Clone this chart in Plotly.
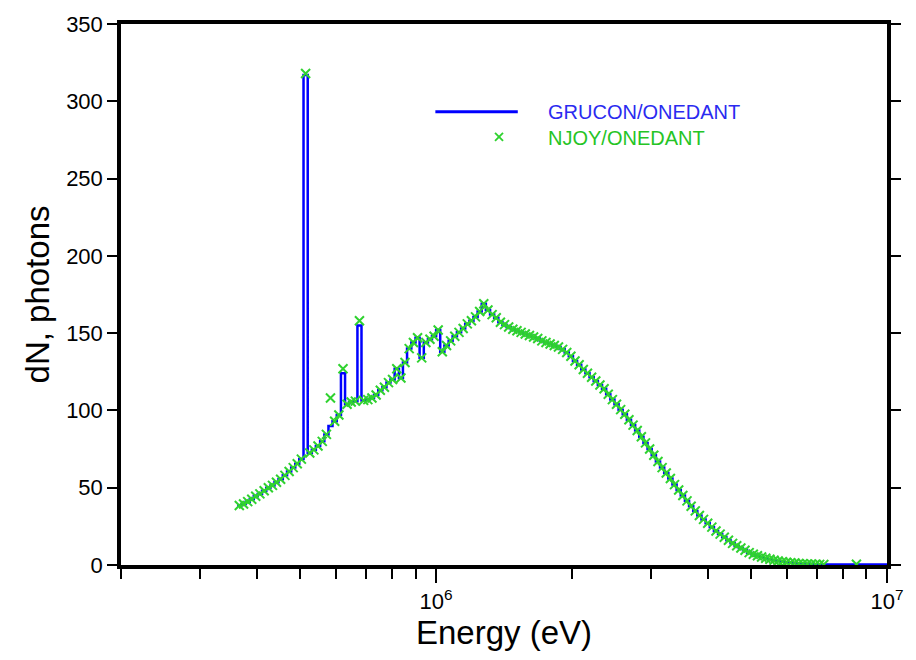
import numpy as np
import plotly.graph_objects as go

# Photon group boundaries, keV (fine groups up to 7.3 MeV, then one wide group)
group_edges_kev = [
    362, 370, 378, 386, 394, 402, 411, 420, 429, 438,
    447, 457, 467, 477, 487, 497, 508, 519, 530, 541,
    553, 565, 577, 589, 602, 615, 628, 641, 655, 669,
    683, 698, 713, 728, 744, 760, 776, 792, 809, 827,
    844, 862, 881, 900, 919, 939, 959, 979,
    1000, 1021, 1043, 1066, 1088, 1112, 1136, 1160, 1185, 1210,
    1236, 1262, 1289, 1317, 1345, 1374, 1403, 1433, 1464, 1495,
    1527, 1560, 1593, 1628, 1662, 1698, 1734, 1771, 1809, 1848,
    1888, 1928, 1969, 2011, 2054, 2098, 2143, 2189, 2236, 2284,
    2333, 2383, 2434, 2486, 2539, 2593, 2649, 2705, 2763, 2822,
    2883, 2944, 3007, 3072, 3138, 3205, 3273, 3343, 3415, 3488,
    3563, 3639, 3717, 3796, 3877, 3960, 4045, 4132, 4220, 4310,
    4403, 4497, 4593, 4691, 4792, 4894, 4999, 5106, 5215, 5327,
    5441, 5557, 5676, 5798, 5922, 6049, 6178, 6310, 6445, 6583,
    6724, 6868, 7015, 7165, 7318, 10000,
]

# Group photon counts, GRUCON/ONEDANT
grucon_dn = [
    38.5, 39.5, 41, 42.5, 44.5, 46, 48, 50, 51.5, 53.5,
    55.5, 58, 60.5, 63, 65.5, 68.5, 317, 72.5, 74.5, 77,
    80, 84.5, 90, 93, 97, 124, 104, 105.5, 106, 155,
    106.5, 107, 108, 110, 113, 115, 118, 120, 127, 121,
    131, 140, 144, 147, 134, 144, 146, 148, 152, 138,
    142, 145, 148, 150.5, 153, 156, 158, 160.5, 164, 169,
    165, 162, 160, 157, 155.5, 154, 152.5, 151.5, 150.5, 149.5,
    148.5, 147.5, 146.5, 145, 144, 143, 142, 141, 139.5, 137.5,
    135, 132, 129.5, 126.5, 124, 121.5, 119, 116.5, 114, 110.5,
    107, 104, 100.5, 97.5, 94, 90.5, 87, 83, 79, 75,
    71, 67, 63, 59.5, 56, 52, 48.5, 45, 41.5, 38,
    35, 32, 29.5, 27, 24.5, 22, 20, 18, 16, 14,
    12.5, 11, 9.5, 8, 7, 6, 5.2, 4.4, 3.7, 3.1,
    2.6, 2.2, 1.8, 1.5, 1.25, 1.0, 0.85, 0.7, 0.6, 0.5,
    0.4, 0.35, 0.4,
]

# Group photon counts, NJOY/ONEDANT
njoy_dn = [
    38.5, 39.5, 41, 42.5, 44.5, 46, 48, 50, 51.5, 53.5,
    55.5, 58, 60.5, 63, 65.5, 68.5, 318, 72.5, 74.5, 77,
    80, 84.5, 108, 93, 97, 127, 104, 105.5, 106, 158,
    106.5, 107, 108, 110, 113, 115, 118, 120, 127, 121,
    131, 140, 144, 147, 134, 144, 146, 148, 152, 138,
    142, 145, 148, 150.5, 153, 156, 158, 160.5, 164, 169,
    165, 162, 160, 157, 155.5, 154, 152.5, 151.5, 150.5, 149.5,
    148.5, 147.5, 146.5, 145, 144, 143, 142, 141, 139.5, 137.5,
    135, 132, 129.5, 126.5, 124, 121.5, 119, 116.5, 114, 110.5,
    107, 104, 100.5, 97.5, 94, 90.5, 87, 83, 79, 75,
    71, 67, 63, 59.5, 56, 52, 48.5, 45, 41.5, 38,
    35, 32, 29.5, 27, 24.5, 22, 20, 18, 16, 14,
    12.5, 11, 9.5, 8, 7, 6, 5.2, 4.4, 3.7, 3.1,
    2.6, 2.2, 1.8, 1.5, 1.25, 1.0, 0.85, 0.7, 0.6, 0.5,
    0.4, 0.35, 0.5,
]

x_major = [1e6, 1e7]
x_major_text = ["10<sup>6</sup>", "10<sup>7</sup>"]
x_minor = [2e5, 3e5, 4e5, 5e5, 6e5, 7e5, 8e5, 9e5,
           2e6, 3e6, 4e6, 5e6, 6e6, 7e6, 8e6, 9e6]

BLUE = "#0000ff"
GREEN = "#2fd22f"
FONT = "Liberation Sans, Arial, sans-serif"

edges_ev = np.array(group_edges_kev, dtype=float) * 1e3
centers_ev = np.sqrt(edges_ev[:-1] * edges_ev[1:])

fig = go.Figure()

# histogram outline: value held across each group
fig.add_trace(go.Scatter(
    x=edges_ev,
    y=list(grucon_dn) + [grucon_dn[-1]],
    mode="lines",
    line=dict(color=BLUE, width=2.5, shape="hv"),
    showlegend=False,
    hoverinfo="skip",
))

fig.add_trace(go.Scatter(
    x=centers_ev,
    y=njoy_dn,
    mode="markers",
    marker=dict(symbol="x-thin", size=9, line=dict(color=GREEN, width=2)),
    showlegend=False,
))

axis_common = dict(
    showline=True, linecolor="black", linewidth=3.5,
    showgrid=False, zeroline=False,
    ticks="outside", tickcolor="black", tickwidth=2,
    tickfont=dict(family=FONT, size=22, color="black"),
    layer="below traces",
)

fig.update_xaxes(
    type="log",
    range=[np.log10(2e5), 7],
    tickmode="array", tickvals=x_major, ticktext=x_major_text,
    ticklen=14, mirror=True,
    minor=dict(tickmode="array", tickvals=x_minor, ticks="outside",
               ticklen=10, tickwidth=2, tickcolor="black"),
    title=dict(text="Energy (eV)", font=dict(family=FONT, size=33, color="black"),
               standoff=8),
    **axis_common,
)

fig.update_yaxes(
    range=[0, 350], dtick=50, tick0=0,
    ticklen=10, mirror="ticks",
    title=dict(text="dN, photons", font=dict(family=FONT, size=33, color="black"),
               standoff=8),
    **axis_common,
)

# key in the upper middle of the plot
fig.add_shape(type="line", xref="paper", yref="paper",
              x0=0.4104, x1=0.518, y0=0.838, y1=0.838,
              line=dict(color=BLUE, width=3))
for dx0, dy0, dx1, dy1 in [(-4, -4, 4, 4), (-4, 4, 4, -4)]:
    fig.add_shape(type="line", xref="paper", yref="paper",
                  xsizemode="pixel", ysizemode="pixel",
                  xanchor=0.4935, yanchor=0.7914,
                  x0=dx0, y0=dy0, x1=dx1, y1=dy1,
                  line=dict(color=GREEN, width=1.8))
fig.add_annotation(xref="paper", yref="paper", x=0.5545, y=0.838,
                   xanchor="left", yanchor="middle", showarrow=False,
                   text="GRUCON/ONEDANT",
                   font=dict(family=FONT, size=20, color="#2a2af0"))
fig.add_annotation(xref="paper", yref="paper", x=0.5545, y=0.7896,
                   xanchor="left", yanchor="middle", showarrow=False,
                   text="NJOY/ONEDANT",
                   font=dict(family=FONT, size=20, color="#25c425"))

fig.update_layout(
    width=916, height=660,
    margin=dict(l=121, r=25, t=18, b=95),
    paper_bgcolor="white", plot_bgcolor="white",
    font=dict(family=FONT, color="black"),
)

fig.write_html("out.html")
